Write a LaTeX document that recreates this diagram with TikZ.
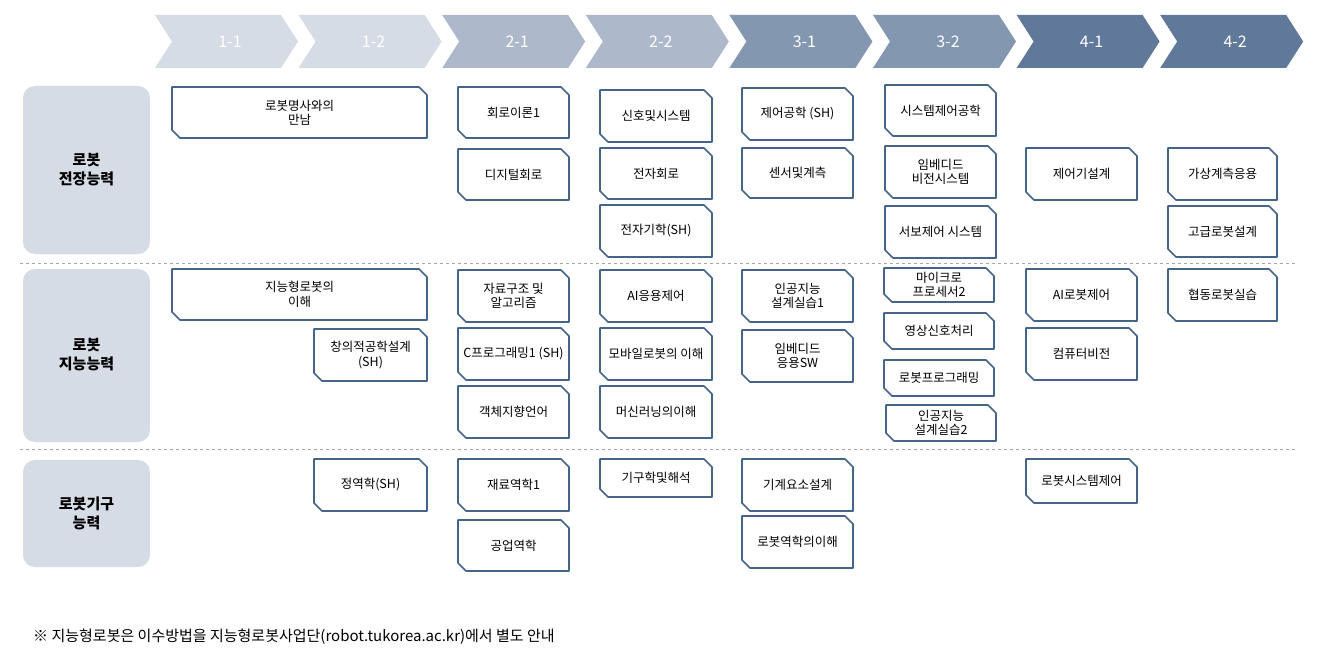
\documentclass[tikz,border=0pt]{standalone}
\usepackage{fontspec}
\setmainfont{Noto Sans CJK KR}
\begin{document}
\begin{tikzpicture}[x=1pt,y=-1pt,
  boxline/.style={draw=boxc,line width=1.6pt,fill=white,line join=round},
  boxtext/.style={font=\fontsize{12.5}{14.5}\selectfont,align=center,inner sep=0pt},
  rowbox/.style={fill=rowc,rounded corners=12pt},
  rowtext/.style={font=\bfseries\fontsize{15}{19}\selectfont,align=center},
  chevtext/.style={font=\fontsize{16}{18}\selectfont,text=white},
  sep/.style={draw=gray!70,dashed,line width=0.8pt}]
\definecolor{boxc}{HTML}{44648A}
\definecolor{rowc}{HTML}{D6DCE5}
\definecolor{c1}{HTML}{D6DCE5}
\definecolor{c2}{HTML}{ADB9CA}
\definecolor{c3}{HTML}{8497B0}
\definecolor{c4}{HTML}{60799A}
\useasboundingbox (0,0) rectangle (1317,663);
\fill[white] (0,0) rectangle (1317,663);
% chevrons
\foreach \i/\lab/\col in {0/1-1/c1,1/1-2/c1,2/2-1/c2,3/2-2/c2,4/3-1/c3,5/3-2/c3,6/4-1/c4,7/4-2/c4}{
  \pgfmathsetmacro{\xa}{155+143.6*\i}
  \fill[\col] (\xa,15) -- ({\xa+126},15) -- ({\xa+143},41.5) -- ({\xa+126},68) -- (\xa,68) -- ({\xa+17},41.5) -- cycle;
  \node[chevtext] (ch\i) at ({\xa+75},42) {\lab};
}
% rows
\fill[rowbox] (23,86) rectangle (150,254);
\node[rowtext] (r1) at (86.5,170) {로봇\\전장능력};
\fill[rowbox] (23,269) rectangle (150,442);
\node[rowtext] (r2) at (86.5,355) {로봇\\지능능력};
\fill[rowbox] (23,460) rectangle (150,567);
\node[rowtext] (r3) at (86.5,513) {로봇기구\\능력};
\draw[sep] (20,263) -- (1297,263);
\draw[sep] (20,449) -- (1297,449);
\newcommand{\cbox}[6]{%
  \draw[boxline] (#2,#3) -- ({#4-8},#3) -- (#4,{#3+8}) -- (#4,#5) -- ({#2+8},#5) -- (#2,{#5-8}) -- cycle;
  \node[boxtext] (#1) at ({(#2+#4)/2},{(#3+#5)/2}) {#6};}
\cbox{a1}{172}{87}{427}{138}{로봇명사와의\\만남}
\cbox{a2}{458}{87}{569}{138}{회로이론1}
\cbox{a3}{458}{149}{569}{200}{디지털회로}
\cbox{a4}{600}{90}{712}{142}{신호및시스템}
\cbox{a5}{600}{148}{712}{199}{전자회로}
\cbox{a6}{600}{205}{712}{257}{전자기학(SH)}
\cbox{a7}{742}{88}{853}{140}{제어공학 (SH)}
\cbox{a8}{742}{148}{853}{198}{센서및계측}
\cbox{a9}{885}{85}{996}{136}{시스템제어공학}
\cbox{a10}{885}{146}{996}{198}{임베디드\\비전시스템}
\cbox{a11}{885}{206}{996}{258}{서보제어 시스템}
\cbox{a12}{1026}{148}{1137}{200}{제어기설계}
\cbox{a13}{1168}{148}{1277}{200}{가상계측응용}
\cbox{a14}{1168}{206}{1277}{257}{고급로봇설계}
\cbox{b1}{172}{269}{427}{320}{지능형로봇의\\이해}
\cbox{b2}{314}{329}{427}{381}{창의적공학설계\\(SH)}
\cbox{b3}{458}{270}{569}{322}{자료구조 및\\알고리즘}
\cbox{b4}{458}{328}{569}{380}{C프로그래밍1 (SH)}
\cbox{b5}{458}{386}{569}{438}{객체지향언어}
\cbox{b6}{600}{270}{712}{322}{AI응용제어}
\cbox{b7}{600}{328}{712}{380}{모바일로봇의 이해}
\cbox{b8}{600}{386}{712}{438}{머신러닝의이해}
\cbox{b9}{742}{270}{853}{322}{인공지능\\설계실습1}
\cbox{b10}{742}{330}{853}{382}{임베디드\\응용SW}
\cbox{b11}{884}{268}{994}{302}{마이크로\\프로세서2}
\cbox{b12}{884}{313}{994}{349}{영상신호처리}
\cbox{b13}{884}{360}{994}{396}{로봇프로그래밍}
\cbox{b14}{886}{405}{996}{441}{인공지능\\설계실습2}
\cbox{b15}{1026}{269}{1137}{321}{AI로봇제어}
\cbox{b16}{1026}{328}{1137}{380}{컴퓨터비전}
\cbox{b17}{1168}{269}{1277}{321}{협동로봇실습}
\cbox{c1}{314}{459}{427}{511}{정역학(SH)}
\cbox{c2}{458}{459}{569}{511}{재료역학1}
\cbox{c3}{458}{520}{569}{571}{공업역학}
\cbox{c4}{600}{459}{712}{497}{기구학및해석}
\cbox{c5}{742}{459}{853}{511}{기계요소설계}
\cbox{c6}{742}{516}{853}{568}{로봇역학의이해}
\cbox{c7}{1026}{459}{1137}{503}{로봇시스템제어}
\node[anchor=west,font=\fontsize{15}{17}\selectfont,inner sep=0pt] (note) at (33,637) {※ 지능형로봇은 이수방법을 지능형로봇사업단(robot.tukorea.ac.kr)에서 별도 안내};
\end{tikzpicture}
\end{document}
